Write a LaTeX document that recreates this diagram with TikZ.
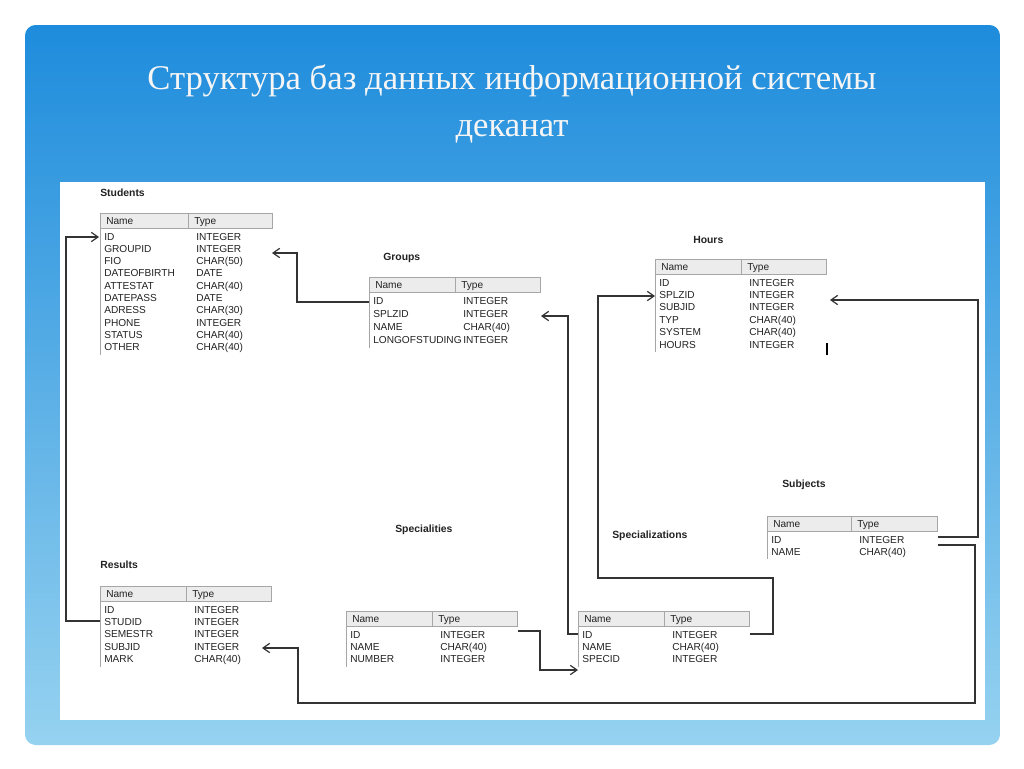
\documentclass[tikz,border=0pt]{standalone}
\usepackage{fontspec}
\setmainfont{Liberation Serif}
\newfontfamily\tabfont{Liberation Sans}
\usetikzlibrary{arrows.meta}
\definecolor{txt}{HTML}{222222}
\definecolor{hdr}{HTML}{ECECEC}
\definecolor{conn}{HTML}{333333}
\tikzset{
  cell/.style={anchor=base west,inner sep=0pt,font=\tabfont\fontsize{7.6}{8}\selectfont,text=txt},
  ttl/.style={anchor=base west,inner sep=0pt,font=\tabfont\bfseries\fontsize{7.8}{9}\selectfont,text=txt},
  link/.style={draw=conn,line width=0.9pt},
  arr/.style={link,-{Straight Barb[length=5pt,width=7pt]}}
}
\newcommand\dbtable[7]{%
  \draw[fill=hdr,draw=gray!70] (#2,#3) rectangle ++(#4,15);
  \draw[draw=gray!70] (#2+#5,#3) -- ++(0,15);
  \node[cell,text=txt] at (#2+6,#3+11.5) {Name};
  \node[cell,text=txt] at (#2+#5+6,#3+11.5) {Type};
  \foreach \n/\t [count=\i] in {#7}{%
    \node[cell] (#1-n\i) at (#2+4,#3+27+\i*#6-#6) {\n};
    \node[cell] (#1-t\i) at (#2+#5+8,#3+27+\i*#6-#6) {\t};
    \xdef\lastrow{\i}%
  }%
  \draw[draw=gray!70] (#2,#3+15) -- (#2,#3+23+\lastrow*#6-#6+8);
}
\begin{document}
\begin{tikzpicture}[x=0.75pt,y=-0.75pt]
\useasboundingbox (0,0) rectangle (1024,768);
\fill[white] (0,0) rectangle (1024,768);
\shade[top color={rgb,255:red,30;green,140;blue,220},bottom color={rgb,255:red,150;green,210;blue,240},rounded corners=8pt] (25,25) rectangle (1000,745);
\fill[white] (60,182) rectangle (985,720);
\node[font=\fontsize{26}{35}\selectfont,text=white!92!gray,align=center] (title) at (512,104) {Структура баз данных информационной системы\\деканат};

\node[ttl] (tStudents) at (100,196) {Students};
\dbtable{st}{100}{213}{172}{88}{12.33}{ID/INTEGER,GROUPID/INTEGER,FIO/CHAR(50),DATEOFBIRTH/DATE,ATTESTAT/CHAR(40),DATEPASS/DATE,ADRESS/CHAR(30),PHONE/INTEGER,STATUS/CHAR(40),OTHER/CHAR(40)}
\node[ttl] (tGroups) at (383,260) {Groups};
\dbtable{gr}{369}{277}{171}{86}{13.3}{ID/INTEGER,SPLZID/INTEGER,NAME/CHAR(40),LONGOFSTUDING/INTEGER}
\node[ttl] (tHours) at (693,243) {Hours};
\dbtable{ho}{655}{259}{171}{86}{12.4}{ID/INTEGER,SPLZID/INTEGER,SUBJID/INTEGER,TYP/CHAR(40),SYSTEM/CHAR(40),HOURS/INTEGER}
\draw[line width=1.2pt] (827,343) -- (827,355);
\node[ttl] (tSubjects) at (782,487) {Subjects};
\dbtable{su}{767}{516}{170}{84}{12.4}{ID/INTEGER,NAME/CHAR(40)}
\node[ttl] (tSpecz) at (612,538) {Specializations};
\dbtable{sz}{578}{611}{171}{86}{12.4}{ID/INTEGER,NAME/CHAR(40),SPECID/INTEGER}
\node[ttl] (tSpec) at (395,532) {Specialities};
\dbtable{sp}{346}{611}{171}{86}{12.4}{ID/INTEGER,NAME/CHAR(40),NUMBER/INTEGER}
\node[ttl] (tResults) at (100,568) {Results};
\dbtable{re}{100}{586}{171}{86}{12.4}{ID/INTEGER,STUDID/INTEGER,SEMESTR/INTEGER,SUBJID/INTEGER,MARK/CHAR(40)}

\coordinate (a1) at (100,621); \coordinate (b1) at (99,237);
\draw[arr] (a1) -- (66,621) -- (66,237) -- (b1);
\coordinate (a2) at (369,302); \coordinate (b2) at (272,253);
\draw[arr] (a2) -- (297,302) -- (297,253) -- (b2);
\coordinate (a3) at (578,634); \coordinate (b3) at (541,316);
\draw[arr] (a3) -- (568,634) -- (568,316) -- (b3);
\coordinate (a4) at (518,631); \coordinate (b4) at (578,670);
\draw[arr] (a4) -- (540,631) -- (540,670) -- (b4);
\coordinate (a5) at (750,634); \coordinate (b5) at (655,296);
\draw[arr] (a5) -- (773,634) -- (773,578) -- (598,578) -- (598,296) -- (b5);
\coordinate (a6) at (938,537); \coordinate (b6) at (830,300);
\draw[arr] (a6) -- (978,537) -- (978,300) -- (b6);
\coordinate (a7) at (938,545); \coordinate (b7) at (262,648);
\draw[arr] (a7) -- (975,545) -- (975,703) -- (298,703) -- (298,648) -- (b7);
\end{tikzpicture}
\end{document}
